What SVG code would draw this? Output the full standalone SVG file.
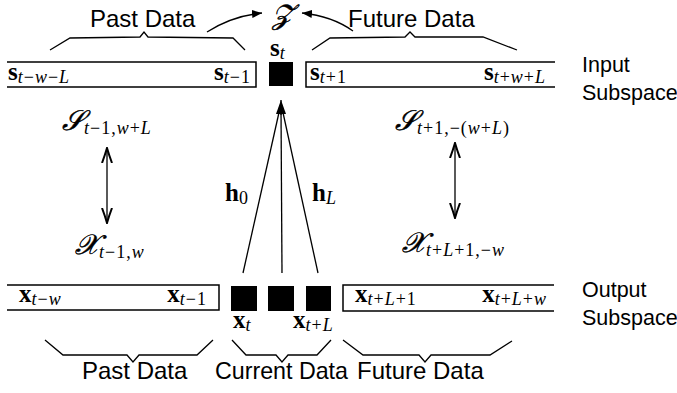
<svg xmlns="http://www.w3.org/2000/svg" width="677" height="393" viewBox="0 0 677 393">
<style>
.lbl{font-family:"Liberation Sans",Arial,sans-serif;font-size:24px;fill:#000}
.sp{font-family:"Liberation Sans",Arial,sans-serif;font-size:21.5px;fill:#000}
.m{font-family:"Liberation Serif","Times New Roman",serif;font-size:25px;fill:#000}
.e{text-anchor:end}
.b{font-weight:bold}
.sb{font-size:18px;letter-spacing:1px}
.it{font-style:italic}
.cal{font-family:"Liberation Serif","DejaVu Serif",serif;font-style:italic;font-size:28px;stroke:#000;stroke-width:0.5}
.box{fill:none;stroke:#000;stroke-width:1.5}
.br{fill:none;stroke:#000;stroke-width:1.3}
.ln{stroke:#000;stroke-width:1.3;fill:none}
</style>
<defs>
<marker id="tri" viewBox="0 0 10 10" refX="10" refY="5" markerWidth="10" markerHeight="10" markerUnits="userSpaceOnUse" orient="auto">
<path d="M0,1 L10,5 L0,9 Z" fill="#000"/>
</marker>
<marker id="tipBig" viewBox="0 0 14 10" refX="14" refY="5" markerWidth="14" markerHeight="10" markerUnits="userSpaceOnUse" orient="auto">
<path d="M0,0 L14,5 L0,10 Z" fill="#000"/>
</marker>
<marker id="vee" viewBox="0 0 16 12" refX="15" refY="6" markerWidth="16" markerHeight="12" markerUnits="userSpaceOnUse" orient="auto-start-reverse">
<path d="M0,1 Q8,4 15,6 Q8,8 0,11" fill="none" stroke="#000" stroke-width="2"/>
</marker>
</defs>

<!-- braces and titles -->
<g id="past-top">
<path class="br" d="M50,50 L70,38 L140,37 L144,32 L148,37 L233,38 L245,50"/>
<text class="lbl" x="90" y="27">Past Data</text>
</g>
<g id="future-top">
<path class="br" d="M312,50 L330,38 L405,37 L410,32 L415,37 L483,37 L517,50"/>
<text class="lbl" x="348" y="27">Future Data</text>
</g>
<g id="z">
<text class="m" x="272" y="24"><tspan class="cal">𝒵</tspan></text>
</g>

<g id="input-label">
<text class="sp" x="582" y="72">Input</text>
<text class="sp" x="582" y="100">Subspace</text>
</g>
<g id="output-label">
<text class="sp" x="582" y="297">Output</text>
<text class="sp" x="582" y="325">Subspace</text>
</g>

<!-- input row -->
<g id="input-past">
<path class="box" d="M7,62 H256 V87 H7"/>
<text class="m" x="8" y="80"><tspan class="b">s</tspan><tspan class="sb" dy="3"><tspan class="it">t</tspan>−<tspan class="it">w</tspan>−<tspan class="it">L</tspan></tspan></text>
<text class="m e" x="251" y="80"><tspan class="b">s</tspan><tspan class="sb" dy="3"><tspan class="it">t</tspan>−1</tspan></text>
</g>
<g id="input-current">
<rect x="269" y="62" width="24" height="24" fill="#000"/>
<text class="m" x="270" y="56"><tspan class="b">s</tspan><tspan class="sb it" dy="3">t</tspan></text>
</g>
<g id="input-future">
<path class="box" d="M555,62 H306 V87 H555"/>
<text class="m" x="310" y="80"><tspan class="b">s</tspan><tspan class="sb" dy="3"><tspan class="it">t</tspan>+1</tspan></text>
<text class="m e" x="546" y="80"><tspan class="b">s</tspan><tspan class="sb" dy="3"><tspan class="it">t</tspan>+<tspan class="it">w</tspan>+<tspan class="it">L</tspan></tspan></text>
</g>

<!-- subspace labels -->
<g id="S-past">
<text class="m" x="62" y="130"><tspan class="cal">𝒮</tspan><tspan class="sb" dy="4"><tspan class="it">t</tspan>−1,<tspan class="it">w</tspan>+<tspan class="it">L</tspan></tspan></text>
</g>
<g id="X-past">
<text class="m" x="75" y="254"><tspan class="cal">𝒳</tspan><tspan class="sb" dy="4"><tspan class="it">t</tspan>−1,<tspan class="it">w</tspan></tspan></text>
</g>
<g id="S-future">
<text class="m" x="395" y="130"><tspan class="cal">𝒮</tspan><tspan class="sb" dy="4"><tspan class="it">t</tspan>+1,−(<tspan class="it">w</tspan>+<tspan class="it">L</tspan>)</tspan></text>
</g>
<g id="X-future">
<text class="m" x="402" y="252"><tspan class="cal">𝒳</tspan><tspan class="sb" dy="4"><tspan class="it">t</tspan>+<tspan class="it">L</tspan>+1,−<tspan class="it">w</tspan></tspan></text>
</g>

<!-- output row -->
<g id="output-past">
<path class="box" d="M7,285 H219 V310 H7"/>
<text class="m" x="19" y="302"><tspan class="b">x</tspan><tspan class="sb" dy="3"><tspan class="it">t</tspan>−<tspan class="it">w</tspan></tspan></text>
<text class="m e" x="207" y="302"><tspan class="b">x</tspan><tspan class="sb" dy="3"><tspan class="it">t</tspan>−1</tspan></text>
</g>
<g id="output-current">
<rect x="231" y="286" width="26" height="25" fill="#000"/>
<rect x="268" y="286" width="26" height="25" fill="#000"/>
<rect x="306" y="286" width="25" height="25" fill="#000"/>
<text class="m" x="233" y="328"><tspan class="b">x</tspan><tspan class="sb it" dy="3">t</tspan></text>
<text class="m" x="293" y="328"><tspan class="b">x</tspan><tspan class="sb" dy="3"><tspan class="it">t</tspan>+<tspan class="it">L</tspan></tspan></text>
</g>
<g id="output-future">
<path class="box" d="M554,285 H343 V311 H554"/>
<text class="m" x="355" y="302"><tspan class="b">x</tspan><tspan class="sb" dy="3"><tspan class="it">t</tspan>+<tspan class="it">L</tspan>+1</tspan></text>
<text class="m e" x="547" y="302"><tspan class="b">x</tspan><tspan class="sb" dy="3"><tspan class="it">t</tspan>+<tspan class="it">L</tspan>+<tspan class="it">w</tspan></tspan></text>
</g>

<g id="past-bottom">
<path class="br" d="M45,340 L63,355 L127,355 L133,362 L139,355 L197,355 L213,340"/>
<text class="lbl" x="82" y="379">Past Data</text>
</g>
<g id="current-bottom">
<path class="br" d="M232,340 L246,355 L276,355 L282,362 L288,355 L317,355 L331,340"/>
<text class="lbl" x="215" y="379" textLength="133" lengthAdjust="spacingAndGlyphs">Current Data</text>
</g>
<g id="future-bottom">
<path class="br" d="M343,340 L363,355 L419,355 L425,362 L431,355 L490,355 L512,341"/>
<text class="lbl" x="357" y="379">Future Data</text>
</g>

<g id="h-labels">
<text class="m" x="225" y="201"><tspan class="b">h</tspan><tspan class="sb" dy="3">0</tspan></text>
<text class="m" x="312" y="201"><tspan class="b">h</tspan><tspan class="sb it" dy="3">L</tspan></text>
</g>

<!-- connectors -->
<g id="connectors">
<path class="ln" d="M207,32 Q232,16 262,13" marker-end="url(#tri)"/>
<path class="ln" d="M353,31 Q332,16 302,13" marker-end="url(#tri)"/>
<line class="ln" x1="243" y1="273" x2="280" y2="108"/>
<line class="ln" x1="282" y1="273" x2="281" y2="108"/>
<line class="ln" x1="318" y1="273" x2="282" y2="108"/>
<line class="ln" x1="281" y1="115" x2="281" y2="100" marker-end="url(#tipBig)"/>
<line class="ln" x1="107" y1="148" x2="107" y2="223" marker-start="url(#vee)" marker-end="url(#vee)"/>
<line class="ln" x1="455" y1="143" x2="455" y2="218" marker-start="url(#vee)" marker-end="url(#vee)"/>
</g>
</svg>
